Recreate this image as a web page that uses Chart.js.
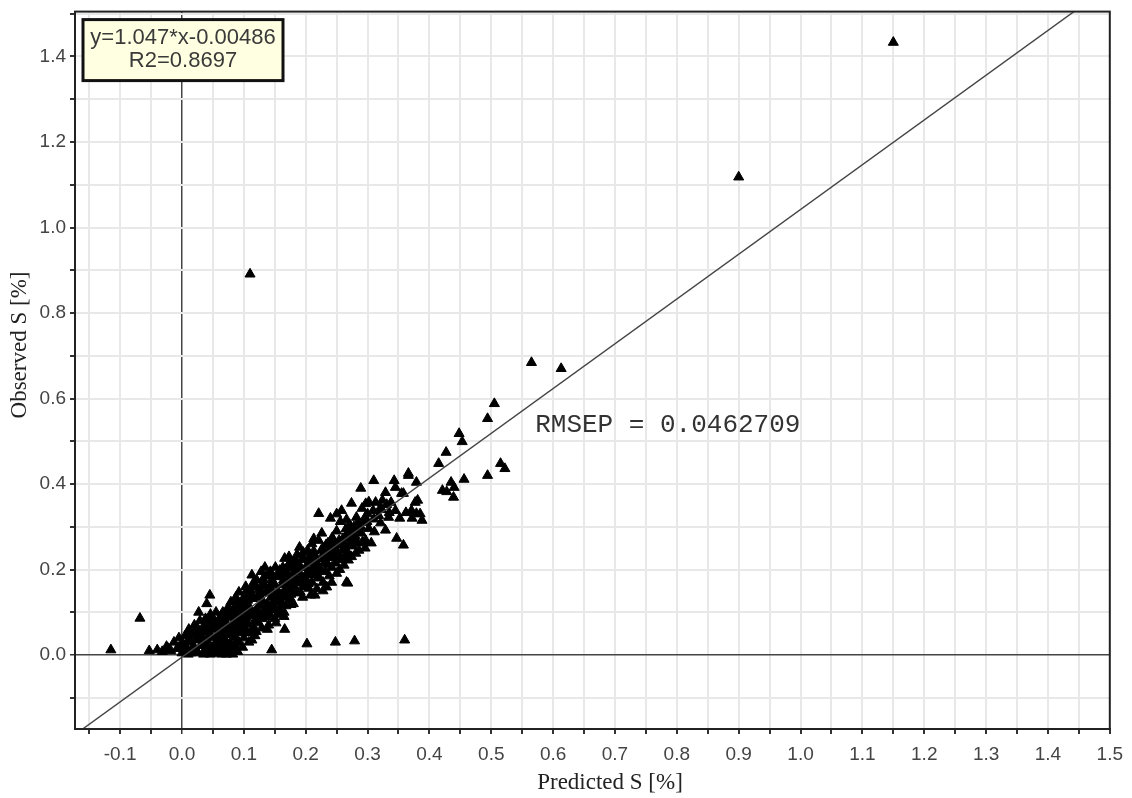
<!DOCTYPE html>
<html>
<head>
<meta charset="utf-8">
<script src="https://cdn.jsdelivr.net/npm/chart.js@4.4.1/dist/chart.umd.min.js"></script>
<style>
  html, body { margin: 0; padding: 0; background: #fff; }
  #wrap { width: 1132px; height: 798px; position: relative; }
</style>
</head>
<body>
<div id="wrap"><canvas id="myChart"></canvas></div>
<script>
// predicted vs observed S [%], one pair per sample (same order in both arrays)
const predicted = [
  1.150, 0.900, 0.110, 0.565, 0.613, 0.505, 0.494, 0.448, 0.453, 0.427,
  0.415, 0.515, 0.522, 0.494, 0.456, 0.435, 0.421, 0.439, 0.440, 0.428,
  -0.115, -0.068, 0.145, 0.202, 0.248, 0.279, 0.360, 0.166, 0.129, 0.113,

  0.310, 0.343, 0.366, 0.379, 0.289, 0.329, 0.358, 0.381, 0.297, 0.313,
  0.323, 0.335, 0.318, 0.345, 0.362, 0.371, 0.379, 0.294, 0.287, 0.302,
  0.329, 0.347, 0.358, 0.297, 0.306, 0.366, 0.377, 0.355, 0.345, 0.321,
  0.274, 0.258, 0.221, 0.240, 0.250, 0.266, 0.282, 0.269, 0.250, 0.234,
  0.266, 0.205, 0.268, 0.300, 0.310, 0.338, 0.352, 0.372, 0.385, 0.388,

  0.180, 0.185, 0.182, 0.188, 0.180, 0.186, 0.190, 0.195, 0.198, 0.193,
  0.200, 0.197, 0.203, 0.208, 0.210, 0.212, 0.206, 0.214, 0.210, 0.218,
  0.220, 0.222, 0.216, 0.225, 0.221, 0.228, 0.232, 0.230, 0.235, 0.233,
  0.238, 0.242, 0.240, 0.245, 0.243, 0.248, 0.252, 0.255, 0.250, 0.258,
  0.262, 0.260, 0.265, 0.268, 0.272, 0.270, 0.276, 0.280, 0.284, 0.290,
  0.278, 0.286, 0.292, 0.296, 0.255, 0.262, 0.242, 0.228, 0.215, 0.274,

  0.120, 0.123, 0.120, 0.125, 0.122, 0.126, 0.121, 0.128, 0.130, 0.133,
  0.131, 0.135, 0.132, 0.136, 0.134, 0.140, 0.142, 0.140, 0.144, 0.141,
  0.145, 0.143, 0.150, 0.152, 0.148, 0.153, 0.150, 0.155, 0.151, 0.158,
  0.160, 0.157, 0.162, 0.159, 0.163, 0.166, 0.168, 0.170, 0.167, 0.172,
  0.169, 0.174, 0.176, 0.178, 0.175, 0.180, 0.177, 0.173, 0.165, 0.156,

  0.060, 0.062, 0.058, 0.064, 0.061, 0.066, 0.068, 0.070, 0.067, 0.072,
  0.069, 0.074, 0.076, 0.078, 0.075, 0.080, 0.077, 0.082, 0.079, 0.084,
  0.086, 0.083, 0.088, 0.085, 0.090, 0.087, 0.092, 0.094, 0.091, 0.096,
  0.093, 0.098, 0.092, 0.100, 0.102, 0.099, 0.104, 0.101, 0.106, 0.103,
  0.108, 0.110, 0.107, 0.112, 0.109, 0.114, 0.111, 0.113, 0.116, 0.118,

  -0.053, -0.040, -0.032, -0.025, -0.018, -0.013, -0.008, -0.005, 0.000, 0.002,
  0.005, 0.008, 0.011, 0.012, 0.015, 0.017, 0.020, 0.020, 0.023, 0.025,
  0.027, 0.026, 0.029, 0.030, 0.032, 0.034, 0.036, 0.038, 0.040, 0.045,
  0.040, 0.042, 0.044, 0.046, 0.047, 0.049, 0.050, 0.052, 0.054, 0.055,
  0.053, 0.056, 0.058, 0.046, 0.035, 0.064, 0.072, 0.082, 0.090, 0.010,

  0.006, 0.014, 0.026, 0.033, 0.047, 0.053, 0.066, 0.074, 0.087, 0.094,
  0.106, 0.113, 0.127, 0.134, 0.146, 0.154, 0.166, 0.173, 0.187, 0.194,
  0.206, 0.213, 0.227, 0.236, 0.244, 0.016, 0.031, 0.043, 0.061, 0.073,
  0.089, 0.104, 0.121, 0.137, 0.149, 0.163, 0.181, 0.196, 0.209, 0.224,
  0.041, 0.057, 0.071, 0.086, 0.098, 0.117, 0.131, 0.146, 0.161, 0.176,
  0.191, 0.204, 0.219, 0.236, 0.251, 0.264, 0.281, 0.266, 0.276, 0.284,
  0.296, 0.309, 0.324, 0.311, 0.321, 0.334, 0.331, 0.302, 0.291, 0.256,

  0.010, 0.018, 0.028, 0.037, 0.048, 0.058, 0.068, 0.079, 0.088, 0.099,
  0.105, 0.116, 0.124, 0.137, 0.146, 0.155, 0.164, 0.171, 0.183, 0.192,
  0.201, 0.211, 0.219, 0.227, 0.237, 0.246, 0.254, 0.263, 0.271, 0.281,
  0.057, 0.066, 0.076, 0.083, 0.094, 0.103, 0.117, 0.126, 0.139, 0.147,
  0.157, 0.168, 0.178, 0.189, 0.199, 0.209, 0.219, 0.229, 0.239, 0.249,
  0.259, 0.269, 0.279, 0.289, 0.299, 0.226, 0.213, 0.196, 0.184, 0.171,
  0.158, 0.144, 0.131, 0.118, 0.104, 0.089, 0.076, 0.063, 0.050, 0.037,
  0.024, 0.012, -0.003, -0.022, 0.098, 0.086, 0.138, 0.152, 0.165, 0.176
];
const observed = [
  1.433, 1.118, 0.891, 0.684, 0.670, 0.588, 0.553, 0.518, 0.499, 0.474,
  0.448, 0.448, 0.436, 0.420, 0.411, 0.404, 0.385, 0.369, 0.392, 0.382,
  0.012, 0.086, 0.012, 0.026, 0.030, 0.033, 0.035, 0.060, 0.063, 0.035,

  0.408, 0.408, 0.425, 0.404, 0.390, 0.380, 0.378, 0.362, 0.354, 0.357,
  0.340, 0.333, 0.326, 0.338, 0.333, 0.338, 0.331, 0.310, 0.299, 0.296,
  0.292, 0.273, 0.257, 0.268, 0.262, 0.420, 0.357, 0.378, 0.392, 0.345,
  0.355, 0.338, 0.331, 0.320, 0.330, 0.317, 0.322, 0.222, 0.191, 0.159,
  0.170, 0.156, 0.168, 0.330, 0.318, 0.357, 0.320, 0.320, 0.330, 0.315,

  0.120, 0.145, 0.170, 0.195, 0.215, 0.235, 0.252, 0.135, 0.160, 0.185,
  0.205, 0.225, 0.245, 0.140, 0.170, 0.195, 0.215, 0.235, 0.260, 0.155,
  0.180, 0.205, 0.225, 0.245, 0.268, 0.170, 0.195, 0.215, 0.235, 0.258,
  0.185, 0.205, 0.228, 0.250, 0.275, 0.215, 0.238, 0.260, 0.290, 0.225,
  0.248, 0.272, 0.295, 0.240, 0.262, 0.285, 0.255, 0.278, 0.262, 0.285,
  0.300, 0.245, 0.265, 0.250, 0.200, 0.210, 0.170, 0.150, 0.140, 0.230,

  0.055, 0.075, 0.095, 0.115, 0.135, 0.155, 0.175, 0.195, 0.085, 0.105,
  0.125, 0.145, 0.165, 0.185, 0.205, 0.070, 0.095, 0.115, 0.135, 0.155,
  0.175, 0.195, 0.085, 0.105, 0.125, 0.145, 0.165, 0.185, 0.205, 0.105,
  0.125, 0.145, 0.165, 0.185, 0.205, 0.226, 0.115, 0.135, 0.155, 0.175,
  0.195, 0.215, 0.130, 0.150, 0.170, 0.190, 0.205, 0.230, 0.100, 0.095,

  0.005, 0.025, 0.045, 0.065, 0.085, 0.100, 0.012, 0.035, 0.055, 0.075,
  0.095, 0.110, 0.005, 0.028, 0.048, 0.068, 0.088, 0.105, 0.124, 0.015,
  0.040, 0.060, 0.080, 0.100, 0.118, 0.135, 0.030, 0.052, 0.072, 0.092,
  0.112, 0.130, 0.147, 0.040, 0.062, 0.082, 0.102, 0.122, 0.140, 0.160,
  0.030, 0.052, 0.072, 0.092, 0.112, 0.132, 0.152, 0.187, 0.170, 0.045,

  0.010, 0.012, 0.008, 0.020, 0.010, 0.030, 0.015, 0.040, 0.005, 0.025,
  0.045, 0.012, 0.060, 0.030, 0.005, 0.048, 0.070, 0.018, 0.035, 0.058,
  0.100, 0.005, 0.080, 0.022, 0.045, 0.065, 0.010, 0.085, 0.120, 0.140,
  0.035, 0.055, 0.075, 0.095, 0.015, 0.040, 0.060, 0.080, 0.005, 0.100,
  0.025, 0.045, 0.070, 0.002, 0.002, 0.002, 0.002, 0.002, 0.008, 0.002,

  0.021, 0.033, 0.044, 0.057, 0.063, 0.078, 0.082, 0.097, 0.108, 0.121,
  0.128, 0.143, 0.148, 0.162, 0.168, 0.183, 0.189, 0.203, 0.208, 0.223,
  0.228, 0.243, 0.248, 0.262, 0.268, 0.014, 0.036, 0.043, 0.062, 0.068,
  0.087, 0.088, 0.107, 0.118, 0.137, 0.138, 0.162, 0.168, 0.187, 0.198,
  0.021, 0.033, 0.052, 0.058, 0.077, 0.079, 0.097, 0.108, 0.118, 0.142,
  0.148, 0.167, 0.188, 0.212, 0.223, 0.232, 0.238, 0.282, 0.293, 0.308,
  0.322, 0.338, 0.362, 0.288, 0.309, 0.322, 0.352, 0.358, 0.343, 0.312,

  0.035, 0.008, 0.055, 0.030, 0.085, 0.018, 0.040, 0.058, 0.092, 0.105,
  0.110, 0.062, 0.140, 0.090, 0.150, 0.125, 0.175, 0.160, 0.180, 0.205,
  0.190, 0.215, 0.200, 0.232, 0.245, 0.232, 0.268, 0.258, 0.305, 0.292,
  0.010, 0.028, 0.018, 0.050, 0.065, 0.052, 0.100, 0.088, 0.105, 0.118,
  0.135, 0.148, 0.162, 0.170, 0.180, 0.198, 0.210, 0.225, 0.240, 0.258,
  0.245, 0.272, 0.268, 0.300, 0.312, 0.285, 0.272, 0.240, 0.222, 0.208,
  0.198, 0.185, 0.178, 0.160, 0.150, 0.125, 0.108, 0.092, 0.078, 0.068,
  0.065, 0.048, 0.022, 0.015, 0.018, 0.025, 0.060, 0.075, 0.090, 0.118
];

// regression summary shown on the plot
const fitSlope = 1.047;
const fitIntercept = -0.00486;
const fitR2 = 0.8697;
const rmsep = 0.0462709;

// axis ranges
const xMin = -0.173, xMax = 1.5;
const yMin = -0.173, yMax = 1.505;

const points = predicted.map((p, i) => ({ x: p, y: observed[i] }));
const fitLine = [xMin, xMax].map(v => ({ x: v, y: fitSlope * v + fitIntercept }));

const isZero = v => Math.abs(v) < 1e-9;

const frameAndText = {
  id: 'frameAndText',
  afterDraw(chart) {
    const { ctx, chartArea: a, scales } = chart;
    ctx.save();
    // plot frame
    ctx.strokeStyle = '#222';
    ctx.lineWidth = 2;
    ctx.strokeRect(a.left, a.top, a.right - a.left, a.bottom - a.top);

    // equation box
    const bx = a.left + 8, by = a.top + 8, bw = 200, bh = 61;
    ctx.fillStyle = '#ffffe1';
    ctx.fillRect(bx, by, bw, bh);
    ctx.strokeStyle = '#111';
    ctx.lineWidth = 3;
    ctx.strokeRect(bx, by, bw, bh);
    ctx.fillStyle = '#3a3a3a';
    ctx.font = '22px "Liberation Sans", Arial, sans-serif';
    ctx.textAlign = 'center';
    ctx.textBaseline = 'middle';
    ctx.fillText('y=' + fitSlope + '*x' + fitIntercept, bx + bw / 2, by + 18);
    ctx.fillText('R2=' + fitR2, bx + bw / 2, by + 41);

    // RMSEP note
    ctx.font = '26px "Liberation Mono", "Courier New", monospace';
    ctx.textAlign = 'left';
    ctx.fillStyle = '#333';
    ctx.fillText('RMSEP = ' + rmsep, scales.x.getPixelForValue(0.571), scales.y.getPixelForValue(0.537));

    // axis titles
    ctx.font = '23px "Liberation Serif", "Times New Roman", serif';
    ctx.fillStyle = '#222';
    ctx.textAlign = 'center';
    ctx.fillText('Predicted S [%]', 610, 783);
    ctx.translate(20, 345);
    ctx.rotate(-Math.PI / 2);
    ctx.fillText('Observed S [%]', 0, 0);
    ctx.restore();
  }
};

const tickFont = { family: '"Liberation Sans", Arial, sans-serif', size: 19 };

const config = {
  type: 'scatter',
  data: {
    datasets: [
      {
        type: 'line',
        data: fitLine,
        borderColor: '#444',
        borderWidth: 1.4,
        pointRadius: 0,
        fill: false
      },
      {
        data: points,
        pointStyle: 'triangle',
        pointRadius: 5.8,
        backgroundColor: '#000',
        borderColor: '#000',
        borderWidth: 1
      }
    ]
  },
  plugins: [frameAndText],
  options: {
    responsive: true,
    maintainAspectRatio: false,
    animation: false,
    layout: { padding: { top: 5, right: 20, left: 0, bottom: 0 } },
    plugins: { legend: { display: false }, tooltip: { enabled: false } },
    scales: {
      x: {
        type: 'linear',
        min: xMin,
        max: xMax,
        afterFit(scale) { scale.height = 69; },
        border: { display: true, color: '#222', width: 2 },
        grid: {
          color: ctx => isZero(ctx.tick.value) ? '#444' : '#e8e8e8',
          lineWidth: ctx => isZero(ctx.tick.value) ? 1.5 : 2,
          tickColor: '#333',
          tickLength: 5
        },
        ticks: {
          stepSize: 0.05,
          includeBounds: false,
          autoSkip: false,
          maxRotation: 0,
          padding: 9,
          color: '#444',
          font: tickFont,
          callback: v => Math.round(v * 20) % 2 === 0 ? (Math.round(v * 10) / 10).toFixed(1) : ''
        }
      },
      y: {
        type: 'linear',
        min: yMin,
        max: yMax,
        afterFit(scale) { scale.width = 75; },
        border: { display: true, color: '#222', width: 2 },
        grid: {
          color: ctx => isZero(ctx.tick.value) ? '#444' : '#e8e8e8',
          lineWidth: ctx => isZero(ctx.tick.value) ? 1.5 : 2,
          tickColor: '#333',
          tickLength: 5
        },
        ticks: {
          stepSize: 0.1,
          includeBounds: false,
          autoSkip: false,
          padding: 4,
          color: '#444',
          font: { family: tickFont.family, size: 19, lineHeight: 0.8 },
          callback: v => Math.round(v * 10) % 2 === 0 ? (Math.round(v * 10) / 10).toFixed(1) : ''
        }
      }
    }
  }
};

var myChart = new Chart(document.getElementById('myChart'), config);
</script>
</body>
</html>
